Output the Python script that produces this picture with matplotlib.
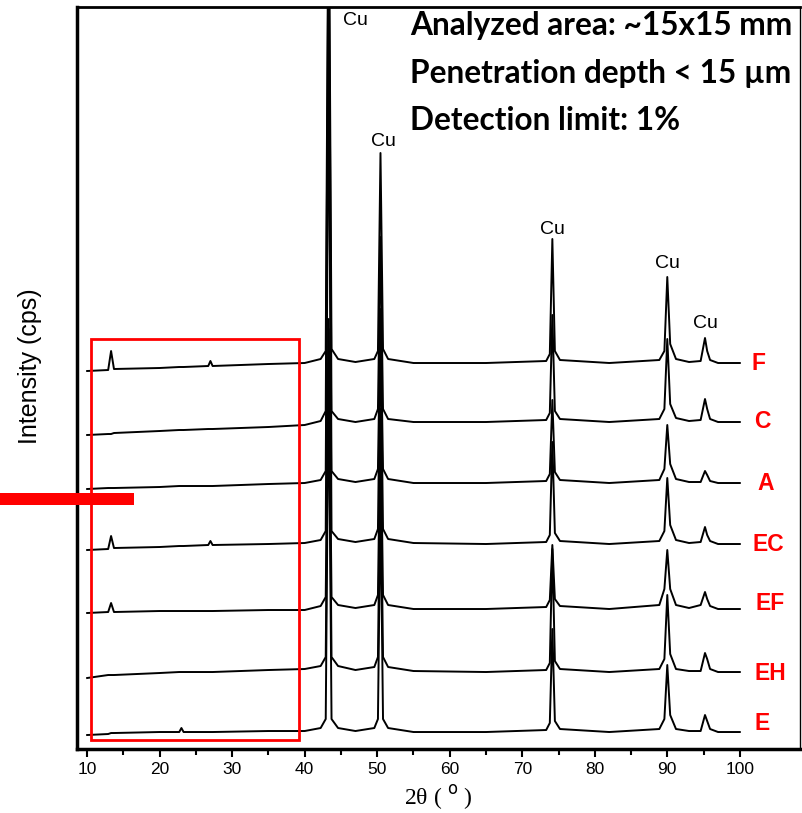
import matplotlib
matplotlib.use("Agg")
import matplotlib.pyplot as plt
from matplotlib.patches import Rectangle

# 2theta nodes (shared by every pattern)
two_theta = [10.0, 12.9, 13.3, 13.7, 20, 22.7, 23.0, 23.3, 26.7, 27.0, 27.3, 35, 40,
             42.2, 42.9, 43.3, 43.7, 44.6, 47, 49.6, 50.1, 50.45, 50.8, 51.5, 55, 65,
             73.3, 73.8, 74.15, 74.5, 75.2, 82, 88.9, 89.6, 90.0, 90.4, 91.2, 93,
             94.6, 95.2, 95.5, 95.9, 97, 100]

# stacked intensities (arbitrary units, already offset)
F = [378, 379, 398, 380, 381, 382, 382, 382, 383, 388, 383, 385, 386,
     390, 398, 900, 400, 390, 387, 390, 398, 596, 400, 390, 386, 386,
     388, 395, 510, 398, 389, 386, 389, 398, 472, 405, 390, 387,
     388, 411, 398, 389, 386, 386]
C = [314, 315, 315, 316, 318, 319, 319, 319, 320, 320, 320, 322, 324,
     328, 338, 850, 338, 330, 327, 330, 340, 512, 340, 330, 327, 327,
     329, 336, 434, 338, 330, 327, 330, 340, 410, 345, 331, 328,
     329, 350, 340, 330, 327, 327]
A = [260, 261, 261, 261, 262, 263, 263, 263, 263, 263, 263, 265, 266,
     269, 278, 760, 278, 270, 267, 270, 280, 440, 280, 270, 266, 266,
     268, 275, 349, 277, 269, 266, 269, 280, 324, 285, 270, 267,
     267, 278, 274, 268, 266, 266]
EC = [199, 200, 213, 201, 202, 203, 203, 203, 204, 208, 204, 205, 206,
      209, 218, 700, 218, 210, 207, 210, 220, 420, 220, 210, 206, 205,
      207, 214, 307, 216, 208, 205, 208, 218, 271, 224, 209, 206,
      207, 222, 214, 208, 205, 205]
EF = [136, 137, 146, 137, 138, 138, 138, 138, 138, 138, 138, 139, 139,
      143, 152, 430, 152, 144, 141, 144, 154, 340, 154, 144, 140, 140,
      142, 149, 204, 150, 143, 140, 144, 160, 199, 160, 144, 141,
      144, 157, 150, 143, 140, 140]
EH = [71, 74, 74, 74, 76, 77, 77, 77, 77, 77, 77, 79, 80,
      83, 92, 420, 92, 83, 79, 82, 92, 300, 92, 82, 78, 77,
      79, 86, 200, 88, 80, 77, 80, 90, 154, 95, 80, 78,
      78, 96, 90, 80, 77, 77]
E = [14, 15, 16, 16, 17, 17, 21, 17, 17, 17, 17, 18, 18,
     21, 30, 380, 30, 21, 18, 21, 30, 250, 30, 21, 17, 17,
     19, 26, 120, 28, 20, 17, 20, 30, 84, 34, 20, 18,
     18, 34, 28, 20, 17, 17]

patterns = [F, C, A, EC, EF, EH, E]
sample_names = ["F", "C", "A", "EC", "EF", "EH", "E"]
name_x = [102.6, 103.1, 103.5, 103.9, 104.2, 104.2, 103.1]
name_y = [386, 328, 266, 205, 146, 76, 26]

cu_x = [47.0, 50.8, 74.1, 90.0, 95.2]
cu_y = [728, 607, 519, 486, 426]

notes = ["Analyzed area: ~15x15 mm", "Penetration depth < 15 µm", "Detection limit: 1%"]

fig = plt.figure(figsize=(8.02, 8.13), dpi=100)
ax = fig.add_axes([0.096, 0.0787, 0.9015, 0.9127])

for y in patterns:
    ax.plot(two_theta, y, color="black", lw=1.4)

for name, x, y in zip(sample_names, name_x, name_y):
    ax.text(x, y, name, color="red", fontsize=16.5, fontweight="bold",
            family="Liberation Sans", ha="center", va="center")

for x, y in zip(cu_x, cu_y):
    ax.text(x, y, "Cu", fontsize=14, family="Liberation Sans", ha="center", va="center")

# highlighted low-angle region
ax.add_patch(Rectangle((10.5, 9), 28.7, 401, fill=False, edgecolor="red", lw=2, zorder=5))

ax.set_xlim(8.6, 108.3)
ax.set_ylim(0, 742)
ax.set_xticks(range(10, 101, 10))
ax.set_xticks(range(15, 100, 10), minor=True)
ax.set_yticks([])
ax.tick_params(axis="x", which="major", length=6, width=1.5, labelsize=12.5)
ax.tick_params(axis="x", which="minor", length=4, width=1.5)
for lbl in ax.get_xticklabels():
    lbl.set_family("Liberation Sans")
ax.spines["left"].set_linewidth(2.5)
ax.spines["bottom"].set_linewidth(2.5)
ax.spines["top"].set_linewidth(2)
ax.spines["right"].set_linewidth(1)

ax.set_xlabel(r"2θ ( $^{\rm o}$ )", family="Liberation Serif", fontsize=17, labelpad=4)
fig.text(0.037, 0.55, "Intensity (cps)", rotation=90, fontsize=18,
         family="Liberation Sans", ha="center", va="center")

for i, note in enumerate(notes):
    fig.text(410 / 802, 1 - (35 + 47.5 * i) / 813, note, fontsize=22.8, fontweight="bold",
             family="Lato", ha="left", va="baseline")

# red marker bar at the left edge
fig.patches.append(Rectangle((0, 0.3788), 0.167, 0.0148, transform=fig.transFigure,
                             facecolor="red", edgecolor="none", zorder=10))

fig.savefig("out.png", dpi=100)
